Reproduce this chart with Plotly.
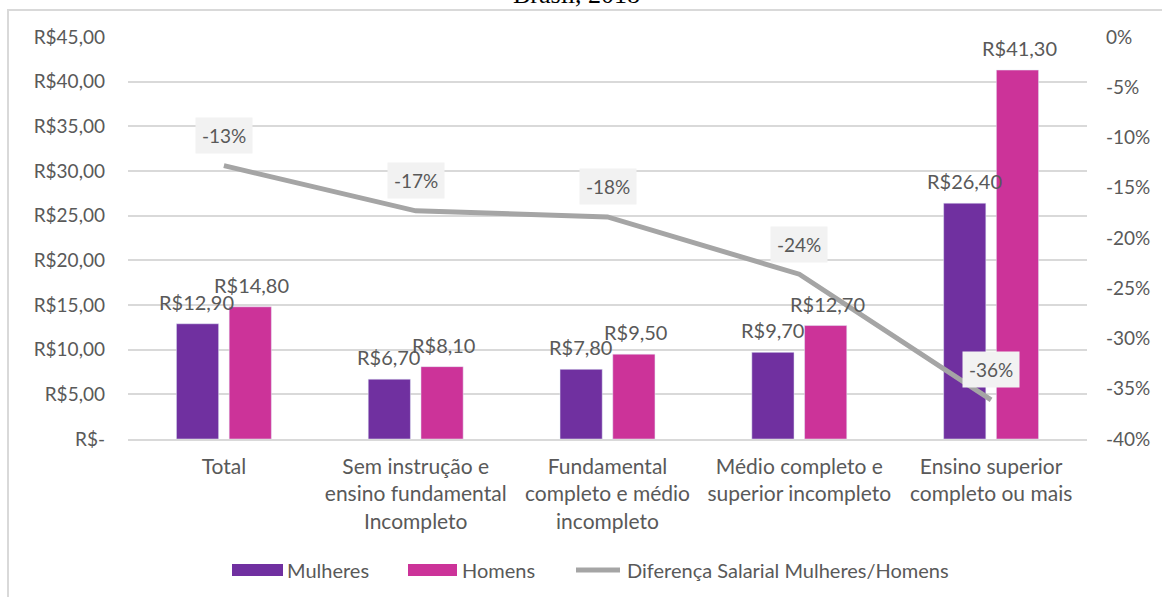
import plotly.graph_objects as go

categories = [
    "Total",
    "Sem instrução e<br>ensino fundamental<br>Incompleto",
    "Fundamental<br>completo e médio<br>incompleto",
    "Médio completo e<br>superior incompleto",
    "Ensino superior<br>completo ou mais",
]
mulheres = [12.90, 6.70, 7.80, 9.70, 26.40]
homens = [14.80, 8.10, 9.50, 12.70, 41.30]
diferenca = [-12.8, -17.3, -17.9, -23.6, -36.1]
left_ticks = [0, 5, 10, 15, 20, 25, 30, 35, 40, 45]
left_labels = ["R$-", "R$5,00", "R$10,00", "R$15,00", "R$20,00", "R$25,00",
               "R$30,00", "R$35,00", "R$40,00", "R$45,00"]
right_ticks = [0, -5, -10, -15, -20, -25, -30, -35, -40]
right_labels = ["0%", "-5%", "-10%", "-15%", "-20%", "-25%", "-30%", "-35%", "-40%"]
series_names = ["Mulheres", "Homens", "Diferença Salarial Mulheres/Homens"]
series_colors = ["#7030a0", "#cc3399", "#a5a5a5"]

FONT = "Lato"
TXT = "#595959"
L, R, T, B, W, H = 128, 75, 37, 158, 1162, 597
PW, PH = W - L - R, H - T - B

def px_x(p):
    return (p - L) / PW

def px_y(p):
    return 1 + (T - p) / PH

def brl(v):
    return "R$" + f"{v:.2f}".replace(".", ",")

fig = go.Figure()
fig.add_trace(go.Bar(x=categories, y=mulheres, name=series_names[0], marker_color=series_colors[0]))
fig.add_trace(go.Bar(x=categories, y=homens, name=series_names[1], marker_color=series_colors[1]))
fig.add_trace(go.Scatter(x=categories, y=diferenca, name=series_names[2],
                         mode="lines", line=dict(color=series_colors[2], width=5), yaxis="y2"))

ann = []
for c, m, h in zip(categories, mulheres, homens):
    ann.append(dict(x=c, y=m, xref="x", yref="y", text=brl(m), showarrow=False,
                    xshift=-27, yshift=8, yanchor="bottom",
                    font=dict(family=FONT, size=20, color=TXT)))
    ann.append(dict(x=c, y=h, xref="x", yref="y", text=brl(h), showarrow=False,
                    xshift=28, yshift=8, yanchor="bottom",
                    font=dict(family=FONT, size=20, color=TXT)))
for c, d in zip(categories, diferenca):
    ann.append(dict(x=c, y=d, xref="x", yref="y2", text=f"{round(d):d}%", showarrow=False,
                    yshift=30, bgcolor="#f2f2f2", borderpad=6,
                    font=dict(family=FONT, size=19, color=TXT)))
ann.append(dict(x=px_x(576), y=px_y(11), xref="paper", yref="paper", text="Brasil, 2018",
                showarrow=False, yanchor="bottom",
                font=dict(family="Liberation Serif", size=26, color="#000000")))

# custom legend (wide Excel-style keys)
shapes = [dict(type="rect", xref="paper", yref="paper", x0=px_x(8), x1=1.3,
               y0=-0.6, y1=px_y(10), line=dict(color="#d9d9d9", width=2),
               fillcolor="rgba(0,0,0,0)", layer="below")]
leg_y = 570
key_x = [(232, 283), (408, 457), (574, 622)]
text_x = [285, 460, 625]
for i, (name, col) in enumerate(zip(series_names, series_colors)):
    x0, x1 = key_x[i]
    if i < 2:
        shapes.append(dict(type="rect", xref="paper", yref="paper",
                           x0=px_x(x0), x1=px_x(x1), y0=px_y(leg_y + 6), y1=px_y(leg_y - 6),
                           fillcolor=col, line=dict(width=0)))
    else:
        shapes.append(dict(type="line", xref="paper", yref="paper",
                           x0=px_x(x0 + 2), x1=px_x(x1 - 2), y0=px_y(leg_y), y1=px_y(leg_y),
                           line=dict(color=col, width=5)))
    ann.append(dict(x=px_x(text_x[i]), y=px_y(leg_y), xref="paper", yref="paper",
                    text=name, showarrow=False, xanchor="left", yanchor="middle",
                    font=dict(family=FONT, size=20, color=TXT)))

fig.update_layout(
    width=W, height=H,
    margin=dict(l=L, r=R, t=T, b=B, autoexpand=False),
    paper_bgcolor="white", plot_bgcolor="white",
    barmode="group", bargap=0.45, bargroupgap=0.2,
    font=dict(family=FONT, color=TXT),
    showlegend=False,
    xaxis=dict(tickfont=dict(size=21, color=TXT), showgrid=False, automargin=False,
               showline=True, linecolor="#d9d9d9", linewidth=1.5, ticks="",
               ticklabelstandoff=8),
    yaxis=dict(range=[0, 45], tickvals=left_ticks, ticktext=left_labels, automargin=False,
               tickfont=dict(size=19, color=TXT), showgrid=True, gridcolor="#d9d9d9",
               gridwidth=1.5, zeroline=False, ticklabelstandoff=22),
    yaxis2=dict(range=[-40, 0], tickvals=right_ticks, ticktext=right_labels, automargin=False,
                overlaying="y", side="right", showgrid=False, zeroline=False,
                tickfont=dict(size=19, color=TXT), ticklabelstandoff=18),
    annotations=ann,
    shapes=shapes,
)

fig.write_html("out.html", config={"displayModeBar": False},
               post_script="document.body.style.margin='0px';")
